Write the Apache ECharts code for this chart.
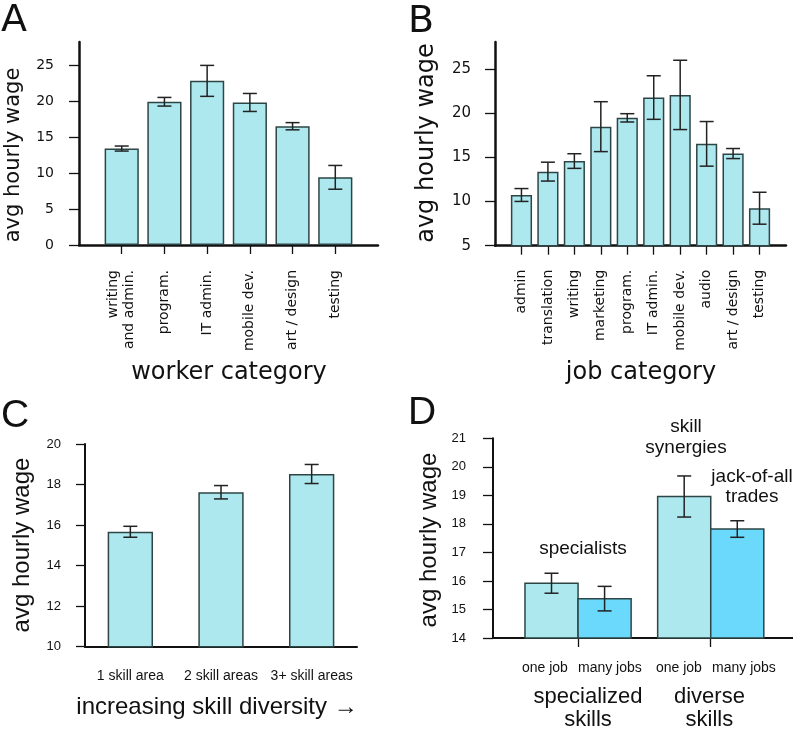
<!DOCTYPE html>
<html><head><meta charset="utf-8">
<script src="https://cdn.jsdelivr.net/npm/echarts@6/dist/echarts.min.js"></script>
<style>html,body{margin:0;padding:0;background:#fff}#c{width:793px;height:731px}</style>
</head><body><div id="c"></div>
<script>
// ---------- Panel A : worker category ----------
const catsA = ['writing\nand admin.', 'program.', 'IT admin.', 'mobile dev.', 'art / design', 'testing'];
const valsA = [13.4, 19.9, 22.8, 19.8, 16.5, 9.4];
const errA  = [0.35, 0.6, 2.15, 1.25, 0.5, 1.65];
const ticksA = [0, 5, 10, 15, 20, 25];
const yRangeA = [0, 28.2];

// ---------- Panel B : job category ----------
const catsB = ['admin', 'translation', 'writing', 'marketing', 'program.', 'IT admin.', 'mobile dev.', 'audio', 'art / design', 'testing'];
const valsB = [10.75, 13.4, 14.6, 18.5, 19.5, 21.8, 22.1, 16.55, 15.45, 9.25];
const errB  = [0.73, 1.07, 0.83, 2.83, 0.47, 2.47, 3.93, 2.53, 0.57, 1.81];
const ticksB = [5, 10, 15, 20, 25];
const yRangeB = [5, 28.1];

// ---------- Panel C : skill diversity ----------
const catsC = ['1 skill area', '2 skill areas', '3+ skill areas'];
const valsC = [15.67, 17.62, 18.52];
const errC  = [0.27, 0.33, 0.47];
const ticksC = [10, 12, 14, 16, 18, 20];
const yRangeC = [10, 20];

// ---------- Panel D : specialists vs diverse ----------
const groupsD = ['specialized\nskills', 'diverse\nskills'];
const subD = ['one job', 'many jobs'];
const oneJobD = [15.92, 18.96];
const manyJobsD = [15.38, 17.82];
const errOneJobD = [0.35, 0.72];
const errManyJobsD = [0.43, 0.29];
const notesD = ['specialists', 'skill\nsynergies', 'jack-of-all\ntrades'];
const ticksD = [14, 15, 16, 17, 18, 19, 20, 21];
const yRangeD = [14, 21];

// ---------- styles ----------
const LIGHT = '#ade8ef', BRIGHT = '#6ad9fb', EDGE = '#2d4545', INK = '#111';
const DJ = 'DejaVu Sans', LS = 'Liberation Sans';
const BW = 0.4; // bar width in D (axis units)

const chart = echarts.init(document.getElementById('c'), null, {renderer: 'canvas'});

function padCats(c) { return [' '].concat(c, ['  ']); }
function errData(cats, vals, errs) { return cats.map((c, i) => [c, vals[i] - errs[i], vals[i] + errs[i]]); }

function errShape(x, lo, hi, api) {
  const p1 = api.coord([x, lo]), p2 = api.coord([x, hi]);
  const cw = 7, st = {stroke: '#222', lineWidth: 1.5};
  return {type: 'group', children: [
    {type: 'line', shape: {x1: p1[0], y1: p1[1], x2: p2[0], y2: p2[1]}, style: st},
    {type: 'line', shape: {x1: p1[0] - cw, y1: p1[1], x2: p1[0] + cw, y2: p1[1]}, style: st},
    {type: 'line', shape: {x1: p2[0] - cw, y1: p2[1], x2: p2[0] + cw, y2: p2[1]}, style: st}
  ]};
}
function errRender(params, api) { return errShape(api.value(0), api.value(1), api.value(2), api); }

function yAx(gi, r, ticks, font, fs, margin, tickLen, lw) {
  return {type: 'value', gridIndex: gi, min: r[0], max: r[1],
    axisLine: {show: true, onZero: false, lineStyle: {color: INK, width: lw}},
    axisTick: {show: true, customValues: ticks, length: tickLen, lineStyle: {color: INK, width: 1.3}},
    axisLabel: {customValues: ticks, fontFamily: font, fontSize: fs, color: INK, margin: margin},
    splitLine: {show: false}};
}

function barSide(side, color) {
  return function (params, api) {
    const g = api.value(0), v = api.value(1);
    const x0 = side < 0 ? g - BW : g, x1 = side < 0 ? g : g + BW;
    const a = api.coord([x0, v]), b = api.coord([x1, yRangeD[0]]);
    return {type: 'rect', shape: {x: a[0], y: a[1], width: b[0] - a[0], height: b[1] - a[1]},
      style: {fill: color, stroke: EDGE, lineWidth: 1.5}};
  };
}
function errSide(side) {
  return function (params, api) {
    return errShape(api.value(0) + side * BW / 2, api.value(1), api.value(2), api);
  };
}

const catTick = (idx, val) => String(val).trim() !== '';

function txt(text, x, y, font, size, rot, lh) {
  return {type: 'text', x: x, y: y, rotation: rot || 0, silent: true,
    style: {text: text, fill: INK, font: size + 'px "' + font + '"', align: 'center', verticalAlign: 'middle', lineHeight: lh || size * 1.1}};
}

const option = {
  animation: false,
  backgroundColor: '#fff',
  grid: [
    {left: 79, top: 42, width: 299, height: 203},
    {left: 495, top: 42, width: 298, height: 203.7},
    {left: 85, top: 444, width: 272, height: 202.7},
    {left: 493, top: 438.3, width: 300, height: 203.4}
  ],
  xAxis: [
    {type: 'category', gridIndex: 0, data: padCats(catsA), boundaryGap: false,
      axisLine: {onZero: false, lineStyle: {color: INK, width: 2.5}},
      axisTick: {interval: catTick, length: 9, lineStyle: {color: INK, width: 1.3}},
      axisLabel: {interval: 0, rotate: 90, fontFamily: DJ, fontSize: 14, color: INK, margin: 25, lineHeight: 16}},
    {type: 'category', gridIndex: 1, data: padCats(catsB), boundaryGap: false,
      axisLine: {onZero: false, lineStyle: {color: INK, width: 2.5}},
      axisTick: {interval: catTick, length: 9, lineStyle: {color: INK, width: 1.3}},
      axisLabel: {interval: 0, rotate: 90, fontFamily: DJ, fontSize: 14, color: INK, margin: 24}},
    {type: 'category', gridIndex: 2, data: catsC, boundaryGap: true,
      axisLine: {onZero: false, lineStyle: {color: INK, width: 2}},
      axisTick: {alignWithLabel: true, length: 9, lineStyle: {color: INK, width: 1.3}},
      axisLabel: {interval: 0, fontFamily: LS, fontSize: 14, color: INK, margin: 22}},
    {type: 'value', gridIndex: 3, min: -0.641, max: 1.62,
      axisLine: {onZero: false, lineStyle: {color: INK, width: 2}},
      axisTick: {show: true, customValues: [0, 1], length: 9, lineStyle: {color: INK, width: 1.3}},
      axisLabel: {customValues: [-0.25, 0.24, 0.76, 1.25], fontFamily: LS, fontSize: 14, color: INK, margin: 23,
        formatter: (v) => subD[(v < 0 || (v > 0.5 && v < 1)) ? 0 : 1]},
      splitLine: {show: false}},
    {type: 'value', gridIndex: 3, min: -0.641, max: 1.62, position: 'bottom',
      axisLine: {show: false, onZero: false}, axisTick: {show: false}, splitLine: {show: false},
      axisLabel: {customValues: [0.075, 0.99], fontFamily: LS, fontSize: 22, color: INK, margin: 47, lineHeight: 23,
        formatter: (v) => groupsD[v < 0.5 ? 0 : 1]}}
  ],
  yAxis: [
    yAx(0, yRangeA, ticksA, DJ, 14, 25, 10, 2.5),
    yAx(1, yRangeB, ticksB, DJ, 15, 24, 10, 2.5),
    yAx(2, yRangeC, ticksC, LS, 13, 24, 9, 2),
    yAx(3, yRangeD, ticksD, LS, 13, 27, 10, 2)
  ],
  series: [
    {type: 'bar', xAxisIndex: 0, yAxisIndex: 0, barWidth: '80%', data: catsA.map((c, i) => [c, valsA[i]]),
      itemStyle: {color: LIGHT, borderColor: EDGE, borderWidth: 1.5}},
    {type: 'custom', xAxisIndex: 0, yAxisIndex: 0, renderItem: errRender, data: errData(catsA, valsA, errA), encode: {x: 0, y: [1, 2]}, z: 5},
    {type: 'bar', xAxisIndex: 1, yAxisIndex: 1, barWidth: '80%', data: catsB.map((c, i) => [c, valsB[i]]),
      itemStyle: {color: LIGHT, borderColor: EDGE, borderWidth: 1.5}},
    {type: 'custom', xAxisIndex: 1, yAxisIndex: 1, renderItem: errRender, data: errData(catsB, valsB, errB), encode: {x: 0, y: [1, 2]}, z: 5},
    {type: 'bar', xAxisIndex: 2, yAxisIndex: 2, barWidth: '50%', data: catsC.map((c, i) => [c, valsC[i]]),
      itemStyle: {color: LIGHT, borderColor: EDGE, borderWidth: 1.5}},
    {type: 'custom', xAxisIndex: 2, yAxisIndex: 2, renderItem: errRender, data: errData(catsC, valsC, errC), encode: {x: 0, y: [1, 2]}, z: 5},
    {type: 'custom', xAxisIndex: 3, yAxisIndex: 3, renderItem: barSide(-1, LIGHT), data: oneJobD.map((v, i) => [i, v]), encode: {x: 0, y: 1}},
    {type: 'custom', xAxisIndex: 3, yAxisIndex: 3, renderItem: barSide(1, BRIGHT), data: manyJobsD.map((v, i) => [i, v]), encode: {x: 0, y: 1}},
    {type: 'custom', xAxisIndex: 3, yAxisIndex: 3, renderItem: errSide(-1), data: oneJobD.map((v, i) => [i, v - errOneJobD[i], v + errOneJobD[i]]), encode: {x: 0, y: [1, 2]}, z: 5},
    {type: 'custom', xAxisIndex: 3, yAxisIndex: 3, renderItem: errSide(1), data: manyJobsD.map((v, i) => [i, v - errManyJobsD[i], v + errManyJobsD[i]]), encode: {x: 0, y: [1, 2]}, z: 5}
  ],
  graphic: [
    txt('A', 14, 21, DJ, 38),
    txt('B', 421, 22, DJ, 38),
    txt('C', 15, 416, LS, 39),
    txt('D', 422, 413, LS, 39),
    txt('avg hourly wage', 14, 155, DJ, 21, Math.PI / 2),
    txt('avg hourly wage', 427, 143, DJ, 24, Math.PI / 2),
    txt('avg hourly wage', 22, 545, LS, 24, Math.PI / 2),
    txt('avg hourly wage', 429, 540, LS, 24, Math.PI / 2),
    txt('worker category', 229, 373, DJ, 24),
    txt('job category', 641, 373, DJ, 24),
    txt('increasing skill diversity \u2192', 217, 707, LS, 24),
    txt(notesD[0], 583, 549, LS, 19),
    txt(notesD[1], 686, 437, LS, 19, 0, 21),
    txt(notesD[2], 752, 487, LS, 19, 0, 20)
  ]
};
chart.setOption(option);
</script>
</body></html>
